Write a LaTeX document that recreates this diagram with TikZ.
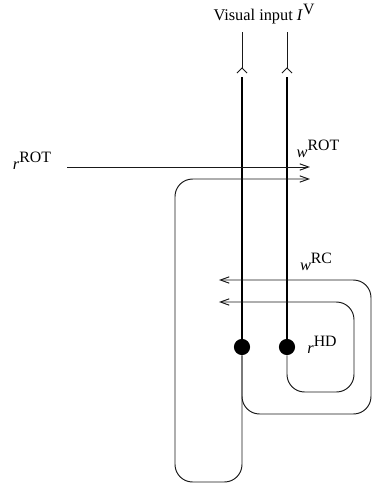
\documentclass[tikz,border=0pt]{standalone}
\usepackage{fontspec}
\setmainfont{Liberation Serif}
\usetikzlibrary{arrows.meta,positioning}

\newcommand{\sLabel}[2]{\textit{#1}\raisebox{0.9ex}{\small #2}}

\begin{document}
\begin{tikzpicture}[x=0.02cm,y=-0.02cm,
    font=\fontsize{9.3}{11}\selectfont,
    fibre/.style={black!90,line width=0.55pt},
    axon/.style={black,line width=1.4pt},
    proj/.style={fibre,rounded corners=10pt,-{Straight Barb[length=5pt,width=3.6pt]}},
    cell/.style={circle,fill=black,inner sep=0pt,minimum size=9.2pt}]
    \useasboundingbox (0,0) rectangle (373,485);

    % HD cells
    \node[cell] (hdL) at (242,347) {};
    \node[cell] (hdR) at (287,347) {};

    % Visual input
    \node (vis) at (264,14) {Visual input \textit{I}\raisebox{0.9ex}{\small V}};
    \foreach \x/\n in {242/L,287/R} {
        \coordinate (top\n) at (\x,32);
        \coordinate (syn\n) at (\x,68);
        \coordinate (in\n) at (\x,77);
        \draw[fibre] (top\n) -- (syn\n);
        \draw[fibre] (\x-5,73) -- (syn\n) -- (\x+5,73);
        \draw[axon] (in\n) -- (hdR.center -| in\n);
    }

    % Rotation input
    \node (rrot) at (32,161) {\sLabel{r}{ROT}};
    \coordinate (rotEnd) at (310,167);
    \draw[proj] (rrot.east |- rotEnd) ++(10,0) -- (rotEnd);
    \node (wrot) at (318,149) {\sLabel{w}{ROT}};

    % Recurrent loops
    \coordinate (loopA) at (310,179);
    \coordinate (loopB) at (219,280);
    \coordinate (loopC) at (219,302);
    \draw[proj] (hdL) -- (242,482) -- (175,482) -- (175,179) -- (loopA);
    \draw[proj] (hdL) -- (242,414) -- (371,414) -- (371,280) -- (loopB);
    \draw[proj] (hdR) -- (287,392) -- (354,392) -- (354,302) -- (loopC);

    % Labels
    \node (wrc) at (316,262) {\sLabel{w}{RC}};
    \node (rhd) at (322,345) {\sLabel{r}{HD}};
\end{tikzpicture}
\end{document}
